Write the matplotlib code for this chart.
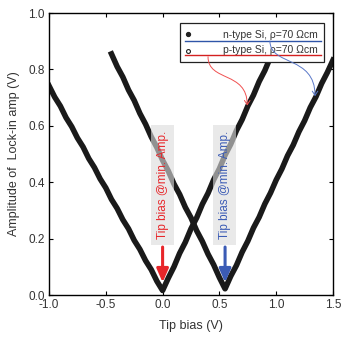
import matplotlib.pyplot as plt
from matplotlib.patches import Rectangle, FancyArrowPatch
from matplotlib.path import Path

plt.rcParams['font.family'] = ['Liberation Sans', 'DejaVu Sans']

# p-type Si sweep (min near 0.0 V)
p_bias = [-1.00, -0.95, -0.90, -0.85, -0.80, -0.75, -0.70, -0.65, -0.60, -0.55,
          -0.50, -0.45, -0.40, -0.35, -0.30, -0.25, -0.20, -0.15, -0.10, -0.05,
          0.00, 0.05, 0.10, 0.15, 0.20, 0.25, 0.30, 0.35, 0.40, 0.45,
          0.50, 0.55, 0.60, 0.65, 0.70, 0.75, 0.80, 0.85, 0.90, 0.95]
p_amp = [0.742, 0.702, 0.670, 0.629, 0.597, 0.557, 0.525, 0.484, 0.452, 0.412,
         0.380, 0.339, 0.307, 0.267, 0.235, 0.194, 0.162, 0.122, 0.090, 0.049,
         0.016, 0.060, 0.100, 0.148, 0.187, 0.235, 0.274, 0.322, 0.361, 0.409,
         0.448, 0.496, 0.535, 0.583, 0.622, 0.670, 0.709, 0.757, 0.796, 0.844]

# n-type Si sweep (min near 0.55 V)
n_bias = [-0.45, -0.40, -0.35, -0.30, -0.25, -0.20, -0.15, -0.10, -0.05, 0.00,
          0.05, 0.10, 0.15, 0.20, 0.25, 0.30, 0.35, 0.40, 0.45, 0.50,
          0.55, 0.60, 0.65, 0.70, 0.75, 0.80, 0.85, 0.90, 0.95, 1.00,
          1.05, 1.10, 1.15, 1.20, 1.25, 1.30, 1.35, 1.40, 1.45, 1.50]
n_amp = [0.855, 0.810, 0.773, 0.727, 0.690, 0.644, 0.606, 0.561, 0.523, 0.478,
         0.440, 0.394, 0.357, 0.311, 0.274, 0.228, 0.190, 0.145, 0.107, 0.062,
         0.022, 0.067, 0.105, 0.152, 0.191, 0.238, 0.276, 0.323, 0.362, 0.408,
         0.447, 0.494, 0.532, 0.579, 0.618, 0.665, 0.703, 0.750, 0.789, 0.833]

min_bias = [0.0, 0.55]
mark_colors = ['#e8262a', '#3b5bb5']
legend_labels = ['n-type Si, \u03c1=70 \u03a9cm', 'p-type Si, \u03c1=70 \u03a9cm']

txt = '#333333'
fig = plt.figure(figsize=(3.41, 3.38), dpi=100)
ax = fig.add_axes([0.1437, 0.1272, 0.8328, 0.8343])

ax.plot(p_bias, p_amp, '-', color='#1a1a1a', lw=4.0, solid_joinstyle='round', zorder=2)
ax.plot(n_bias, n_amp, '-', color='#1a1a1a', lw=4.0, solid_joinstyle='round', zorder=2)

ax.set_xlim(-1.0, 1.5)
ax.set_ylim(0.0, 1.0)
ax.set_xticks([-1.0, -0.5, 0.0, 0.5, 1.0, 1.5])
ax.set_yticks([0.0, 0.2, 0.4, 0.6, 0.8, 1.0])
ax.xaxis.set_major_formatter(plt.FormatStrFormatter('%.1f'))
ax.yaxis.set_major_formatter(plt.FormatStrFormatter('%.1f'))
ax.tick_params(direction='in', top=True, right=True, length=3, width=0.8,
               labelsize=8.5, labelcolor=txt, pad=3)
for s in ax.spines.values():
    s.set_linewidth(1.0)
ax.set_xlabel('Tip bias (V)', fontsize=9, color=txt, labelpad=6)
ax.set_ylabel('Amplitude of  Lock-in amp (V)', fontsize=9, color=txt, labelpad=6)

# shaded boxes with the "min amplitude" labels and arrows
for xb, c in zip(min_bias, mark_colors):
    ax.add_patch(Rectangle((xb - 0.105, 0.177), 0.205, 0.426, facecolor='#dcdcdc',
                           edgecolor='none', alpha=0.62, zorder=3))
    ax.text(xb, 0.39, 'Tip bias @min. Amp.', rotation=90, color=c, fontsize=8.5,
            ha='center', va='center', zorder=4)
    ax.annotate('', xy=(xb, 0.035), xytext=(xb, 0.18),
                arrowprops=dict(arrowstyle='-|>,head_width=0.35,head_length=0.8',
                                color=c, lw=2.2), zorder=4)

# legend box
ax.add_patch(Rectangle((0.461, 0.826), 0.507, 0.139, transform=ax.transAxes,
                       facecolor='white', edgecolor='#222222', lw=0.9, zorder=5))
ax.plot([0.488], [0.925], 'o', ms=2.8, color='#222222', transform=ax.transAxes, zorder=6)
ax.plot([0.488], [0.866], 'o', ms=2.8, mfc='white', mec='#222222', mew=0.8,
        transform=ax.transAxes, zorder=6)
ax.text(0.947, 0.922, legend_labels[0], fontsize=7.5, color=txt, ha='right', va='center',
        transform=ax.transAxes, zorder=6)
ax.text(0.947, 0.868, legend_labels[1], fontsize=7.5, color=txt, ha='right', va='center',
        transform=ax.transAxes, zorder=6)
ax.plot([0.478, 0.958], [0.901, 0.901], color='#2f55a8', lw=1.0, transform=ax.transAxes, zorder=7)
ax.plot([0.478, 0.958], [0.851, 0.851], color='#d42020', lw=1.0, transform=ax.transAxes, zorder=7)

# curved pointers from legend lines to the curves
def pointer(p0, p1, color):
    (x0, y0), (x1, y1) = p0, p1
    verts = [(x0, y0), (x0, y0 - 0.09), (x1, y0 - 0.05), (x1, y1)]
    path = Path(verts, [Path.MOVETO, Path.CURVE4, Path.CURVE4, Path.CURVE4])
    ax.add_patch(FancyArrowPatch(path=path, arrowstyle='->,head_width=2,head_length=3',
                                 color=color, lw=0.7, zorder=8))

pointer((0.40, 0.845), (0.745, 0.672), '#f05050')
pointer((0.945, 0.901), (1.342, 0.705), '#5a78c8')

fig.savefig('out.png', dpi=100)
